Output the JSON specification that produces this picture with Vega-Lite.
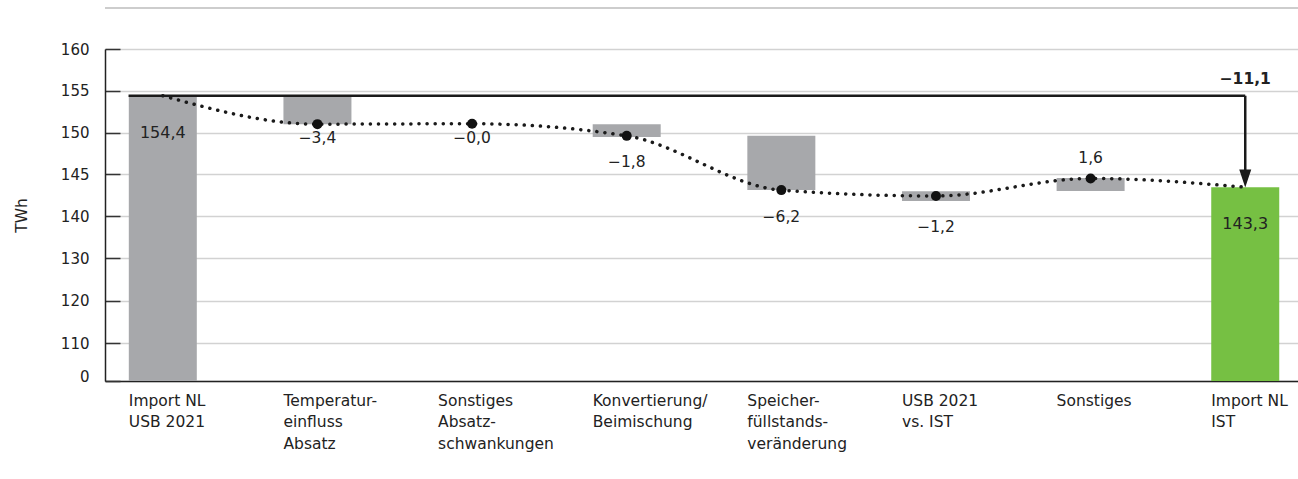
{
  "$schema": "https://vega.github.io/schema/vega-lite/v6.json",
  "autosize": "none",
  "width": 1193,
  "height": 332,
  "padding": {"left": 105, "top": 49, "right": 0, "bottom": 98},
  "background": "white",
  "config": {
    "font": "DejaVu Sans",
    "view": {"stroke": null},
    "text": {"font": "DejaVu Sans", "color": "#222222"}
  },
  "datasets": {
    "steps": [
      {"cat": "Import NL|USB 2021", "kind": "base", "start": 0, "end": 154.4, "path": 154.4, "dot": null, "delta": null, "deltaY": null, "inside": "154,4"},
      {"cat": "Temperatur-|einfluss|Absatz", "kind": "step", "start": 154.4, "end": 151.0, "path": 151.0, "dot": 151.0, "delta": "−3,4", "deltaY": 149.3, "inside": null},
      {"cat": "Sonstiges|Absatz-|schwankungen", "kind": "step", "start": 151.0, "end": 151.0, "path": 151.05, "dot": 151.05, "delta": "−0,0", "deltaY": 149.3, "inside": null},
      {"cat": "Konvertierung/|Beimischung", "kind": "step", "start": 151.0, "end": 149.45, "path": 149.6, "dot": 149.6, "delta": "−1,8", "deltaY": 146.5, "inside": null},
      {"cat": "Speicher-|füllstands-|veränderung", "kind": "step", "start": 149.6, "end": 143.1, "path": 143.1, "dot": 143.1, "delta": "−6,2", "deltaY": 139.8, "inside": null},
      {"cat": "USB 2021|vs. IST", "kind": "step", "start": 142.95, "end": 141.8, "path": 142.4, "dot": 142.4, "delta": "−1,2", "deltaY": 137.4, "inside": null},
      {"cat": "Sonstiges", "kind": "step", "start": 144.55, "end": 143.0, "path": 144.5, "dot": 144.5, "delta": "1,6", "deltaY": 147.0, "inside": null},
      {"cat": "Import NL|IST", "kind": "total", "start": 0, "end": 143.45, "path": 143.45, "dot": null, "delta": null, "deltaY": null, "inside": "143,3"}
    ],
    "arrow": [
      {"from": "Import NL|USB 2021", "to": "Import NL|IST", "level": 154.4, "shaftEnd": 145.5, "head": 144.5, "total": "−11,1", "totalY": 156.35}
    ],
    "sep": [{"top": 164.9}]
  },
  "encoding": {
    "x": {
      "field": "cat",
      "type": "nominal",
      "sort": null,
      "scale": {"type": "band", "paddingInner": 0.557, "paddingOuter": 0.136, "align": 0.56, "domain": ["Import NL|USB 2021", "Temperatur-|einfluss|Absatz", "Sonstiges|Absatz-|schwankungen", "Konvertierung/|Beimischung", "Speicher-|füllstands-|veränderung", "USB 2021|vs. IST", "Sonstiges", "Import NL|IST"]},
      "axis": {
        "title": null,
        "labelExpr": "split(datum.label, '|')",
        "labelAlign": "left",
        "labelBaseline": "top",
        "labelOffset": -34,
        "labelPadding": 12,
        "labelFontSize": 15.5,
        "labelLineHeight": 21.5,
        "labelColor": "#222222",
        "labelFont": "DejaVu Sans",
        "ticks": false,
        "domainColor": "#222222",
        "domainWidth": 1.5,
        "labelAngle": 0
      }
    }
  },
  "layer": [
    {
      "data": {"name": "sep"},
      "mark": {"type": "rule", "color": "#cdcdcd", "strokeWidth": 2},
      "encoding": {"x": null, "y": {"field": "top", "type": "quantitative"}}
    },
    {
      "data": {"name": "steps"},
      "mark": {"type": "bar", "width": 68},
      "encoding": {
        "y": {
          "field": "start",
          "type": "quantitative",
          "scale": {"type": "linear", "domain": [0, 110, 140, 160], "range": [332, 294, 167, 0], "nice": false, "zero": false},
          "axis": {
            "values": [0, 110, 120, 130, 140, 145, 150, 155, 160],
            "grid": true,
            "gridColor": "#d2d2d2",
            "gridWidth": 1.5,
            "tickSize": -15,
            "tickColor": "#333333",
            "tickWidth": 1.5,
            "domainColor": "#222222",
            "domainWidth": 1.5,
            "labelFontSize": 15,
            "labelColor": "#222222",
            "labelFont": "DejaVu Sans",
            "labelPadding": 31,
            "labelOffset": {"condition": {"test": "datum.value == 0", "value": -5}, "value": 0},
            "title": "TWh",
            "titleFont": "DejaVu Sans",
            "titleFontSize": 15.5,
            "titleFontWeight": "normal",
            "titleColor": "#222222",
            "titlePadding": 31
          }
        },
        "y2": {"field": "end"},
        "color": {
          "field": "kind",
          "type": "nominal",
          "scale": {"domain": ["base", "step", "total"], "range": ["#a7a8ab", "#a7a8ab", "#76c043"]},
          "legend": null
        }
      }
    },
    {
      "data": {"name": "steps"},
      "mark": {"type": "line", "interpolate": "monotone", "color": "#1a1a1a", "strokeWidth": 3.5, "strokeCap": "round", "strokeDash": [0.1, 8]},
      "encoding": {"y": {"field": "path", "type": "quantitative"}}
    },
    {
      "data": {"name": "steps"},
      "transform": [{"filter": "datum.dot != null"}],
      "mark": {"type": "circle", "size": 100, "color": "#111111", "opacity": 1},
      "encoding": {"y": {"field": "dot", "type": "quantitative"}}
    },
    {
      "data": {"name": "arrow"},
      "mark": {"type": "rule", "color": "#1a1a1a", "strokeWidth": 2.5},
      "encoding": {
        "x": {"field": "from", "type": "nominal", "bandPosition": 0},
        "x2": {"field": "to", "bandPosition": 0.5},
        "y": {"field": "level", "type": "quantitative"}
      }
    },
    {
      "data": {"name": "arrow"},
      "mark": {"type": "rule", "color": "#1a1a1a", "strokeWidth": 2.5},
      "encoding": {
        "x": {"field": "to", "type": "nominal"},
        "y": {"field": "level", "type": "quantitative"},
        "y2": {"field": "shaftEnd"}
      }
    },
    {
      "data": {"name": "arrow"},
      "mark": {"type": "point", "shape": "M-0.667,-1L0.667,-1L0,1Z", "size": 324, "filled": true, "color": "#1a1a1a", "opacity": 1},
      "encoding": {
        "x": {"field": "to", "type": "nominal"},
        "y": {"field": "head", "type": "quantitative"}
      }
    },
    {
      "data": {"name": "arrow"},
      "mark": {"type": "text", "fontSize": 15.5, "fontWeight": "bold", "baseline": "middle", "align": "center"},
      "encoding": {
        "x": {"field": "to", "type": "nominal"},
        "y": {"field": "totalY", "type": "quantitative"},
        "text": {"field": "total"}
      }
    },
    {
      "data": {"name": "steps"},
      "transform": [{"filter": "datum.delta != null"}],
      "mark": {"type": "text", "fontSize": 15.5, "baseline": "middle", "align": "center"},
      "encoding": {
        "y": {"field": "deltaY", "type": "quantitative"},
        "text": {"field": "delta"}
      }
    },
    {
      "data": {"name": "steps"},
      "transform": [{"filter": "datum.inside != null"}],
      "mark": {"type": "text", "fontSize": 16, "baseline": "middle", "align": "center", "dy": 37},
      "encoding": {
        "y": {"field": "end", "type": "quantitative"},
        "text": {"field": "inside"}
      }
    }
  ]
}
